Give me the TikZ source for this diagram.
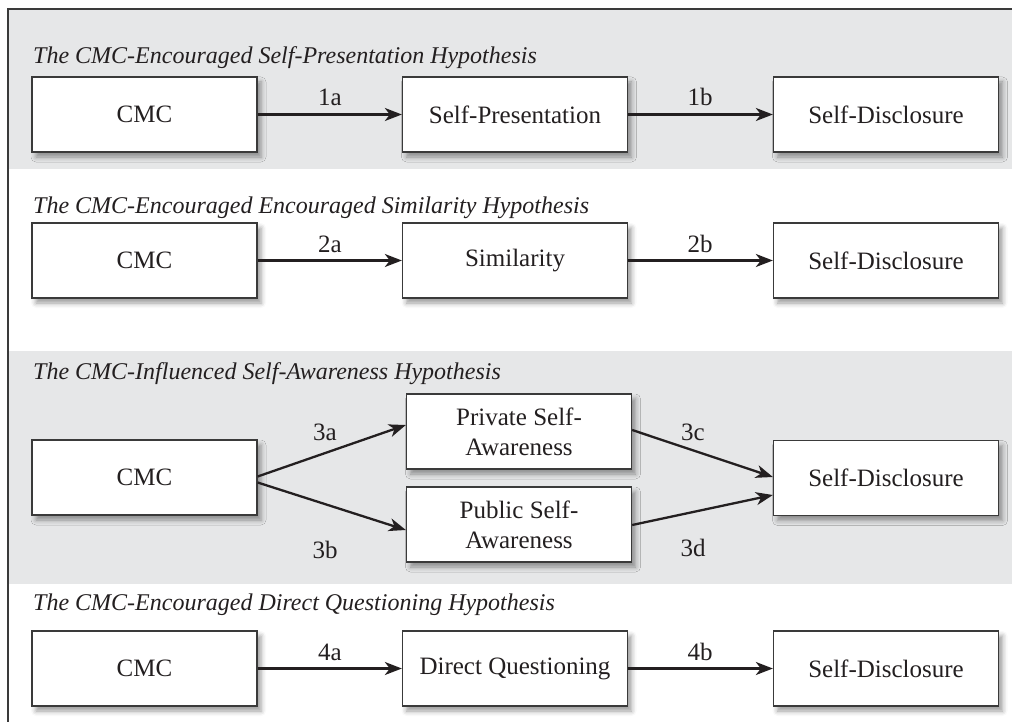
\documentclass[tikz,border=0pt]{standalone}
\usepackage{fontspec}
\setmainfont{Liberation Serif}
\usetikzlibrary{arrows.meta,calc,shadows.blur}

\definecolor{band}{HTML}{E6E7E8}
\definecolor{ink}{HTML}{231F20}
\definecolor{edge}{HTML}{3A3A3A}

\begin{document}
\begin{tikzpicture}[x=1pt,y=-1pt,
  font=\fontsize{25}{30}\selectfont,
  box/.style={draw=edge, line width=1.3pt, fill=white,
    minimum width=225pt, minimum height=75pt, inner sep=0pt,
    align=center, text=ink,
    blur shadow={shadow xshift=4pt, shadow yshift=-5pt,
      shadow blur radius=5pt, shadow opacity=40}},
  title/.style={anchor=base west, inner sep=0pt,
    font=\fontsize{24}{29}\selectfont\itshape, text=ink},
  lbl/.style={inner sep=0pt, text=ink},
  link/.style={draw=ink, line width=2.3pt,
    -{Stealth[length=17pt,width=13pt,inset=5pt]}}]

\useasboundingbox (0,0) rectangle (1012,722);

% shaded bands behind the first and third hypotheses
\fill[band] (8,9) rectangle (1012,169);
\fill[band] (8,351) rectangle (1012,584);
% frame
\draw[edge, line width=1.3pt] (8,722) -- (8,9) -- (1012,9);

% section titles
\node[title] (t1) at (33,64)  {The CMC-Encouraged Self-Presentation Hypothesis};
\node[title] (t2) at (33,214) {The CMC-Encouraged Encouraged Similarity Hypothesis};
\node[title] (t3) at (33,379) {The CMC-Influenced Self-Awareness Hypothesis};
\node[title] (t4) at (33,610) {The CMC-Encouraged Direct Questioning Hypothesis};

% hypothesis 1
\node[box] (cmc1) at (144.5,114.5) {CMC};
\node[box] (sp)   at (515,114.5)   {Self-Presentation};
\node[box] (sd1)  at (886,114.5)   {Self-Disclosure};
\draw[link] (cmc1) -- (sp);
\draw[link] (sp) -- (sd1);
\node[lbl] (l1a) at (330,97) {1a};
\node[lbl] (l1b) at (700,97) {1b};

% hypothesis 2
\node[box] (cmc2) at (144.5,260.5) {CMC};
\node[box] (sim)  at (515,260.5)   {Similarity};
\node[box] (sd2)  at (886,260.5)   {Self-Disclosure};
\draw[link] (cmc2) -- (sim);
\draw[link] (sim) -- (sd2);
\node[lbl] (l2a) at (330,244) {2a};
\node[lbl] (l2b) at (700,244) {2b};

% hypothesis 3
\node[box] (cmc3) at (144.5,477.5) {CMC};
\node[box] (priv) at (519,431.5)   {Private Self-\\Awareness};
\node[box] (pub)  at (519,524.5)   {Public Self-\\Awareness};
\node[box] (sd3)  at (886,478)     {Self-Disclosure};
\draw[link] ($(cmc3.east)+(0,-1)$) -- ($(priv.west)+(0,-6.5)$);
\draw[link] ($(cmc3.east)+(0,5)$)  -- ($(pub.west)+(0,5.5)$);
\draw[link] ($(priv.east)+(0,-1.5)$) -- ($(sd3.west)+(0,-1)$);
\draw[link] ($(pub.east)+(0,0.5)$)  -- ($(sd3.west)+(0,17)$);
\node[lbl] (l3a) at (325,432) {3a};
\node[lbl] (l3b) at (325,550) {3b};
\node[lbl] (l3c) at (693,432) {3c};
\node[lbl] (l3d) at (693,548) {3d};

% hypothesis 4
\node[box] (cmc4) at (144.5,668.5) {CMC};
\node[box] (dq)   at (515,668.5)   {Direct Questioning};
\node[box] (sd4)  at (886,668.5)   {Self-Disclosure};
\draw[link] (cmc4) -- (dq);
\draw[link] (dq) -- (sd4);
\node[lbl] (l4a) at (330,652) {4a};
\node[lbl] (l4b) at (700,652) {4b};
\end{tikzpicture}
\end{document}
